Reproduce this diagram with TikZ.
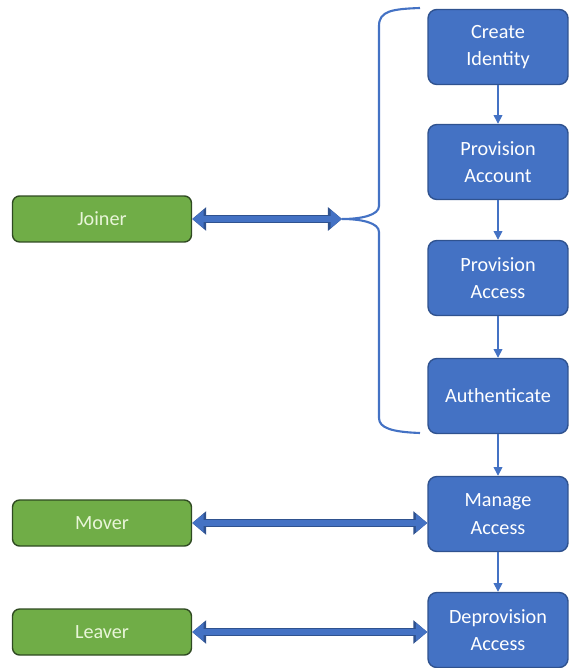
\documentclass[tikz,border=0pt]{standalone}
\usepackage{fontspec}
\setmainfont{Carlito}
\usepackage{xcolor}
\usetikzlibrary{arrows.meta,positioning,calc}
\definecolor{boxblue}{HTML}{4472C4}
\definecolor{edgeblue}{HTML}{2F528F}
\definecolor{boxgreen}{HTML}{70AD47}
\definecolor{edgegreen}{HTML}{2F4A22}
\definecolor{palegreen}{HTML}{E8F5D8}

\begin{document}
\begin{tikzpicture}[x=0.02cm,y=-0.02cm,font=\fontsize{11.5}{15.5}\selectfont,
    stage/.style={draw=edgeblue,fill=boxblue,text=white,line width=0.8pt,rounded corners=5pt,
      minimum width=2.8cm,minimum height=1.5cm,align=center},
    actor/.style={draw=edgegreen,fill=boxgreen,text=palegreen,line width=0.8pt,rounded corners=4pt,
      minimum width=3.58cm,minimum height=0.92cm},
    flow/.style={draw=boxblue,line width=0.8pt,-{Triangle[length=5pt,width=5pt]}},
    bigarrow/.style={draw=boxblue,line width=3pt,
      {Triangle[length=6.5pt,width=10pt]}-{Triangle[length=6.5pt,width=10pt]},
      preaction={draw=edgeblue,line width=4.8pt,
        {Triangle[length=8pt,width=13pt]}-{Triangle[length=8pt,width=13pt]}}},
    brace/.style={draw=boxblue,line width=1.2pt}]
    \useasboundingbox (0,0) rectangle (572,668);
    % identity lifecycle steps
    \foreach \name/\txt/\y in {create/{Create\\Identity}/47,provacct/{Provision\\Account}/162,
        provaccess/{Provision\\Access}/278,auth/{Authenticate}/396,
        manage/{Manage\\Access}/514,deprov/{Deprovision\\Access}/630} {
      \node[stage] (\name) at (498,\y) {\txt};
    }
    \foreach \a/\b in {create/provacct,provacct/provaccess,provaccess/auth,auth/manage,manage/deprov}
      \draw[flow] (\a) -- (\b);
    % actors
    \node[actor] (joiner) at (102,219) {Joiner};
    \node[actor] (mover) at (102,523) {Mover};
    \node[actor] (leaver) at (102,632) {Leaver};
    % brace around the joiner steps
    \coordinate (tip) at (342,219);
    \draw[brace] (420,8) .. controls (392,9) and (379,11) .. (379,26) -- (379,206)
      .. controls (379,215) and (362,219) .. (tip)
      .. controls (362,219) and (379,223) .. (379,232) -- (379,418)
      .. controls (379,428) and (392,432) .. (420,433);
    \draw[bigarrow] (joiner.east) -- (tip);
    \draw[bigarrow] (mover.east) -- (mover.east -| manage.west);
    \draw[bigarrow] (leaver.east) -- (leaver.east -| deprov.west);
  \end{tikzpicture}
\end{document}
